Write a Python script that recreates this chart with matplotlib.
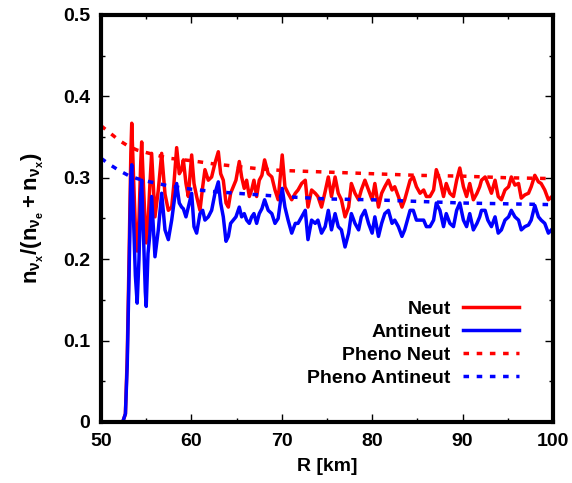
import numpy as np
import matplotlib
matplotlib.use("Agg")
import matplotlib.pyplot as plt
from matplotlib.ticker import MultipleLocator

plt.rcParams['font.family'] = ['Liberation Sans', 'DejaVu Sans']
plt.rcParams['font.weight'] = 'bold'
plt.rcParams['mathtext.fontset'] = 'custom'
plt.rcParams['mathtext.rm'] = 'Liberation Sans:bold'
plt.rcParams['mathtext.it'] = 'Liberation Sans:bold'
plt.rcParams['mathtext.bf'] = 'Liberation Sans:bold'

# radius grid of the simulated profiles (km)
r_sim = [52.4, 52.7, 52.9, 53.1, 53.3, 53.4, 53.6, 53.8, 54.0, 54.2, 54.4, 54.5,
         54.7, 54.9, 55.0, 55.2, 55.4, 55.6, 55.97, 56.34, 56.71, 57.08, 57.45, 57.82,
         58.07, 58.37, 58.66, 58.92, 59.11, 59.4, 59.66, 60.03, 60.29, 60.58, 60.95, 61.25,
         61.5, 61.87, 62.24, 62.61, 62.98, 63.24, 63.53, 63.83, 64.09, 64.34, 64.64, 64.93,
         65.3, 65.56, 65.85, 66.11, 66.41, 66.67, 66.92, 67.22, 67.51, 67.8, 68.1, 68.5,
         68.9, 69.25, 69.6, 70.05, 70.35, 70.7, 71.1, 71.5, 71.8, 72.2, 72.6, 72.9,
         73.3, 73.7, 74.0, 74.4, 74.8, 75.15, 75.5, 75.9, 76.25, 76.6, 77.0, 77.4,
         77.7, 78.1, 78.5, 78.8, 79.2, 79.6, 80.0, 80.3, 80.7, 81.05, 81.4, 81.8,
         82.2, 82.5, 82.9, 83.3, 83.6, 84.2, 84.55, 84.9, 85.3, 85.7, 86.0, 86.4,
         86.8, 87.1, 87.5, 87.9, 88.2, 88.6, 89.0, 89.35, 89.7, 90.1, 90.45, 90.8,
         91.2, 91.6, 91.9, 92.1, 92.5, 92.8, 93.2, 93.6, 93.95, 94.3, 94.7, 95.1,
         95.4, 95.8, 96.2, 96.5, 96.9, 97.3, 97.6, 98.0, 98.4, 98.7, 99.1, 99.5,
         100.0]

neut = [0.0, 0.01, 0.08, 0.20, 0.33, 0.367, 0.30, 0.24, 0.21, 0.25, 0.32, 0.344,
        0.29, 0.24, 0.22, 0.244, 0.29, 0.33, 0.252, 0.285, 0.33, 0.28, 0.26, 0.264,
        0.293, 0.337, 0.305, 0.31, 0.322, 0.293, 0.277, 0.328, 0.293, 0.277, 0.26, 0.289,
        0.31, 0.297, 0.301, 0.318, 0.332, 0.305, 0.297, 0.269, 0.264, 0.281, 0.289, 0.297,
        0.32, 0.301, 0.287, 0.297, 0.277, 0.285, 0.297, 0.277, 0.297, 0.303, 0.322, 0.305,
        0.301, 0.285, 0.273, 0.328, 0.289, 0.281, 0.273, 0.281, 0.285, 0.293, 0.297, 0.264,
        0.285, 0.281, 0.277, 0.264, 0.283, 0.301, 0.277, 0.301, 0.281, 0.273, 0.252, 0.264,
        0.293, 0.281, 0.273, 0.285, 0.297, 0.285, 0.273, 0.293, 0.264, 0.281, 0.289, 0.297,
        0.285, 0.289, 0.277, 0.264, 0.273, 0.297, 0.301, 0.289, 0.281, 0.285, 0.277, 0.277,
        0.285, 0.310, 0.297, 0.277, 0.293, 0.281, 0.277, 0.297, 0.312, 0.289, 0.277, 0.293,
        0.273, 0.281, 0.289, 0.297, 0.301, 0.293, 0.281, 0.297, 0.277, 0.273, 0.285, 0.289,
        0.301, 0.291, 0.293, 0.275, 0.279, 0.281, 0.289, 0.303, 0.295, 0.293, 0.285, 0.273,
        0.278]

antineut = [0.0, 0.01, 0.07, 0.18, 0.30, 0.316, 0.25, 0.18, 0.146, 0.20, 0.28, 0.297,
            0.23, 0.16, 0.142, 0.207, 0.23, 0.277, 0.203, 0.236, 0.281, 0.236, 0.224, 0.248,
            0.269, 0.293, 0.269, 0.264, 0.262, 0.252, 0.264, 0.281, 0.24, 0.232, 0.256, 0.26,
            0.248, 0.252, 0.26, 0.281, 0.295, 0.269, 0.252, 0.222, 0.228, 0.244, 0.248, 0.252,
            0.264, 0.252, 0.256, 0.248, 0.244, 0.252, 0.256, 0.244, 0.256, 0.262, 0.273, 0.26,
            0.256, 0.244, 0.25, 0.287, 0.264, 0.248, 0.232, 0.244, 0.244, 0.252, 0.26, 0.224,
            0.248, 0.244, 0.248, 0.232, 0.24, 0.26, 0.236, 0.256, 0.24, 0.236, 0.215, 0.232,
            0.256, 0.244, 0.236, 0.252, 0.26, 0.244, 0.232, 0.252, 0.228, 0.244, 0.256, 0.26,
            0.244, 0.248, 0.24, 0.228, 0.236, 0.26, 0.26, 0.248, 0.248, 0.248, 0.24, 0.24,
            0.248, 0.269, 0.26, 0.24, 0.256, 0.244, 0.24, 0.26, 0.269, 0.248, 0.24, 0.256,
            0.236, 0.244, 0.252, 0.26, 0.26, 0.248, 0.24, 0.252, 0.232, 0.236, 0.248, 0.252,
            0.26, 0.252, 0.248, 0.236, 0.24, 0.242, 0.248, 0.266, 0.252, 0.248, 0.244, 0.232,
            0.238]

# phenomenological fits
r_pheno = [50, 51, 52, 53, 54, 55, 57.5, 60, 62.5, 65, 67.5, 70, 75, 80, 85, 90, 95, 100]
pheno_neut = [0.364, 0.355, 0.346, 0.339, 0.334, 0.331, 0.324, 0.321, 0.317, 0.314,
              0.311, 0.309, 0.307, 0.305, 0.303, 0.302, 0.300, 0.299]
pheno_antineut = [0.324, 0.316, 0.309, 0.303, 0.299, 0.296, 0.290, 0.286, 0.283, 0.281,
                  0.279, 0.277, 0.274, 0.273, 0.271, 0.269, 0.268, 0.267]

fig = plt.figure(figsize=(5.72, 4.83), dpi=100)
ax = fig.add_axes([0.1766, 0.1263, 0.79, 0.8427])

lw = 2.5
ax.plot(r_sim, neut, color='#ff0000', lw=lw, label='Neut')
ax.plot(r_sim, antineut, color='#0000ff', lw=lw, label='Antineut')
ax.plot(r_pheno, pheno_neut, color='#ff0000', lw=lw, ls=(0, (1.6, 2.2)), label='Pheno Neut')
ax.plot(r_pheno, pheno_antineut, color='#0000ff', lw=lw, ls=(0, (1.6, 2.2)), label='Pheno Antineut')

ax.set_xlim(50, 100)
ax.set_ylim(0, 0.5)
ax.xaxis.set_major_locator(MultipleLocator(10))
ax.xaxis.set_minor_locator(MultipleLocator(5))
ax.yaxis.set_major_locator(MultipleLocator(0.1))
ax.yaxis.set_minor_locator(MultipleLocator(0.05))
ax.yaxis.set_major_formatter(plt.FuncFormatter(lambda v, p: '0' if abs(v) < 1e-9 else f'{v:.1f}'))
ax.tick_params(which='both', direction='in', top=True, right=True, width=1, labelsize=14, pad=8)
ax.tick_params(which='major', length=6)
ax.tick_params(which='minor', length=3)
for s in ax.spines.values():
    s.set_linewidth(3)

ax.set_xlabel('R [km]', fontsize=14, fontweight='bold', labelpad=6)
ax.set_ylabel(r'$\mathrm{n}_{\nu_{x}}/(\mathrm{n}_{\nu_{e}}+\mathrm{n}_{\nu_{x}})$', fontsize=16, labelpad=12)

ax.legend(loc='lower right', bbox_to_anchor=(0.946, 0.063), frameon=False, markerfirst=False,
          fontsize=14, handlelength=2.85, handletextpad=0.65, labelspacing=0.27, borderpad=0)

fig.savefig('out.png', dpi=100)
